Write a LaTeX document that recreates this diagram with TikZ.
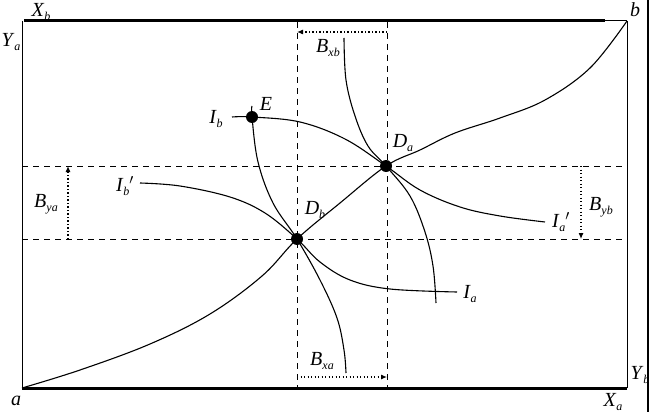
\documentclass[tikz,border=0pt]{standalone}
\usepackage{fontspec}
\setmainfont{Liberation Serif}
\usetikzlibrary{arrows.meta}
\newcommand{\lb}[2]{\textit{#1}\raisebox{-0.45ex}{\fontsize{12}{13}\selectfont\textit{#2}}}
\tikzset{
  frame/.style={line width=1pt},
  thick frame/.style={line width=3pt},
  guide/.style={line width=1pt, dash pattern=on 6pt off 5pt},
  dim/.style={line width=1.1pt, dash pattern=on 1.3pt off 2.2pt, -{Latex[length=6pt,width=5pt]}},
  curve/.style={line width=1.1pt},
  dot/.style={circle, fill=black, inner sep=0pt, minimum size=12pt},
  lab/.style={inner sep=0pt}
}
\begin{document}
\begin{tikzpicture}[x=1pt,y=-1pt, font=\fontsize{20}{22}\selectfont]
\useasboundingbox (0,0) rectangle (650,412);
% frame corners
\coordinate (tl) at (22,21);
\coordinate (tr) at (627,21);
\coordinate (bl) at (22,388);
\coordinate (br) at (627,388);
\coordinate (tk) at (605,21);
\draw[frame] (tl) -- (bl);
\draw[frame] (tr) -- (br);
\draw[frame] (tk) -- (tr);
\draw[thick frame] (24,21) -- (tk);
\draw[thick frame] (bl) -- (br);
\draw[line width=1.2pt] (648,0) -- (648,412);
% guides
\coordinate (hl1) at (22,166); \coordinate (hr1) at (627,166);
\coordinate (hl2) at (22,239); \coordinate (hr2) at (627,239);
\coordinate (vt1) at (297,22); \coordinate (vb1) at (297,387);
\coordinate (vt2) at (387,22); \coordinate (vb2) at (387,387);
\draw[guide] (hl1) -- (hr1);
\draw[guide] (hl2) -- (hr2);
\draw[guide] (vt1) -- (vb1);
\draw[guide] (vt2) -- (vb2);
% dimension arrows
\coordinate (xb1) at (387,32); \coordinate (xb2) at (297,32);
\coordinate (xa1) at (297,377); \coordinate (xa2) at (387,377);
\coordinate (ya1) at (68,239); \coordinate (ya2) at (68,166);
\coordinate (yb1) at (581,166); \coordinate (yb2) at (581,239);
\draw[dim] (xb1) -- (xb2);
\draw[dim] (xa1) -- (xa2);
\draw[dim] (ya1) -- (ya2);
\draw[dim] (yb1) -- (yb2);
% points
\coordinate (pE) at (252,117);
\coordinate (pDa) at (386,166);
\coordinate (pDb) at (297,239);
% curves
\draw[curve] plot[smooth, tension=0.6] coordinates {(22,388) (80,370) (150,344) (210,314) (262,276) (pDb) (340,203) (pDa) (420,150) (455,133) (500,118) (545,100) (590,68) (627,21)};
\draw[curve] plot[smooth, tension=0.6] coordinates {(232,117) (pE) (300,122) (345,139) (pDa) (420,190) (460,207) (500,216) (545,222)};
\draw[curve] plot[smooth, tension=0.6] coordinates {(140,183) (180,186) (230,197) (265,213) (pDb) (320,262) (350,280) (390,289) (457,292)};
\draw[curve] plot[smooth, tension=0.6] coordinates {(252,106) (pE) (258,162) (273,203) (pDb) (320,280) (337,318) (344,350) (346,373)};
\draw[curve] plot[smooth, tension=0.6] coordinates {(344,38) (346,80) (355,116) (368,146) (pDa) (410,196) (425,232) (433,266) (436,303)};
% dots
\node[dot] (E) at (pE) {};
\node[dot] (Da) at (pDa) {};
\node[dot] (Db) at (pDb) {};
% labels
\node[lab] (lXb) at (41,12) {\lb{X}{b}};
\node[lab] (lYa) at (11,42) {\lb{Y}{a}};
\node[lab] (lb) at (635,10) {\textit{b}};
\node[lab] (la) at (16,401) {\textit{a}};
\node[lab] (lXa) at (613,402) {\lb{X}{a}};
\node[lab] (lYb) at (640,375) {\lb{Y}{b}};
\node[lab] (lBxb) at (328,48) {\lb{B}{xb}};
\node[lab] (lBxa) at (322,361) {\lb{B}{xa}};
\node[lab] (lBya) at (46,204) {\lb{B}{ya}};
\node[lab] (lByb) at (601,207) {\lb{B}{yb}};
\node[lab] (lE) at (266,104) {\textit{E}};
\node[lab] (lDa) at (403,143) {\lb{D}{a}};
\node[lab] (lDb) at (315,210) {\lb{D}{b}};
\node[lab] (lIb) at (216,119) {\lb{I}{b}};
\node[lab] (lIbp) at (125,186) {\lb{I}{b}$'$};
\node[lab] (lIap) at (561,222) {\lb{I}{a}$'$};
\node[lab] (lIa) at (470,294) {\lb{I}{a}};
\end{tikzpicture}
\end{document}
